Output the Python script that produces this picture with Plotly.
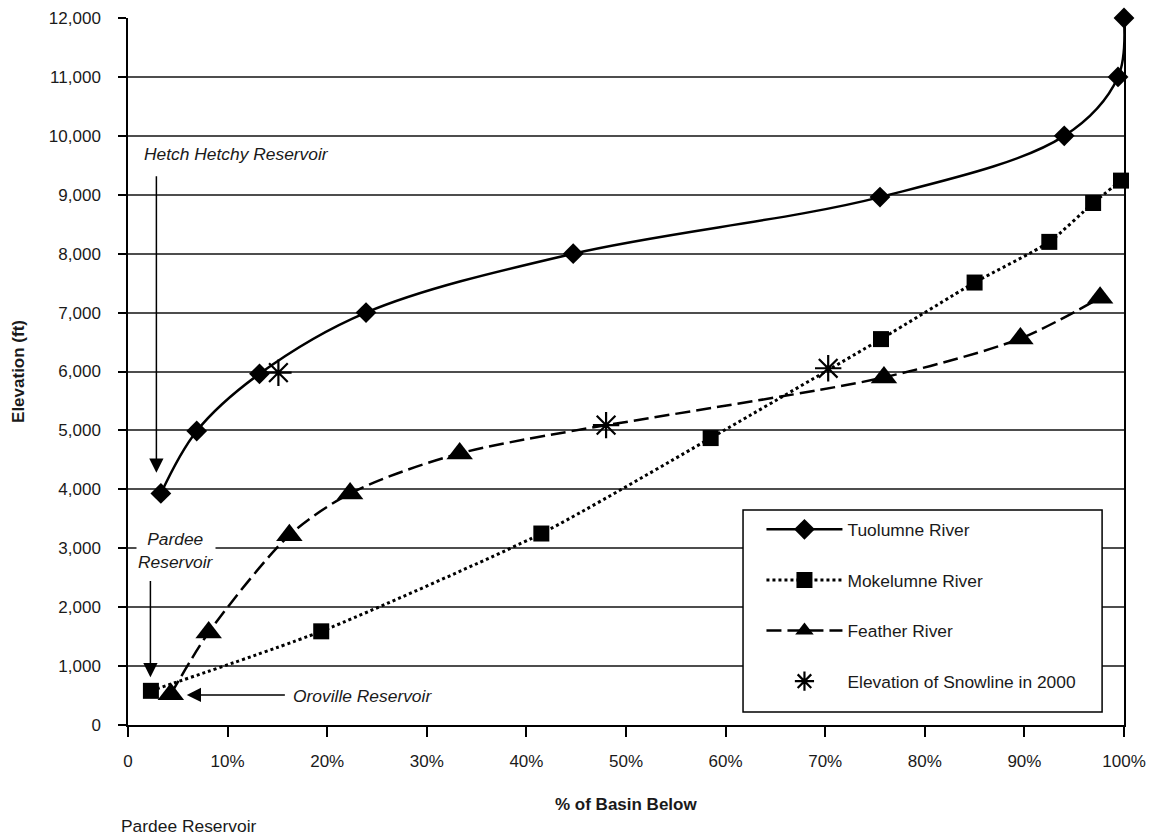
import plotly.graph_objects as go

# ---------------- data ----------------
tuolumne_pct = [3.3, 6.9, 13.2, 23.9, 44.7, 75.5, 94.0, 99.4, 100.0]
tuolumne_elev = [3930, 4990, 5960, 7000, 8000, 8960, 10000, 11000, 12000]

mokelumne_pct = [2.3, 19.4, 41.5, 58.5, 75.6, 85.0, 92.5, 96.9, 99.7]
mokelumne_elev = [580, 1590, 3250, 4870, 6550, 7510, 8200, 8860, 9240]

feather_pct = [4.3, 8.1, 16.2, 22.3, 33.3, 75.9, 89.6, 97.6]
feather_elev = [520, 1570, 3220, 3930, 4610, 5900, 6560, 7250]

snow_pct = [15.1, 48.0, 70.3]
snow_elev = [5980, 5090, 6055]

x_ticks = [0, 10, 20, 30, 40, 50, 60, 70, 80, 90, 100]
x_ticktext = ["0", "10%", "20%", "30%", "40%", "50%", "60%", "70%", "80%", "90%", "100%"]
y_ticks = list(range(0, 12001, 1000))

FONT = "Liberation Sans, Arial, sans-serif"
TXT = "#1a1a1a"
FS = 17.4      # label text size
TFS = 17       # tick text size

fig = go.Figure()

fig.add_trace(go.Scatter(
    x=tuolumne_pct, y=tuolumne_elev, name="Tuolumne River",
    mode="lines+markers", line=dict(color="black", width=2.5, shape="spline", smoothing=1.0),
    marker=dict(symbol="diamond", size=16, color="black"),
    legendgroup="a", cliponaxis=False))

fig.add_trace(go.Scatter(
    x=mokelumne_pct, y=mokelumne_elev, name="Mokelumne River",
    mode="lines+markers", line=dict(color="black", width=3, dash="3px,3px", shape="spline", smoothing=0.6),
    marker=dict(symbol="square", size=16, color="black"),
    legendgroup="b", cliponaxis=False))

fig.add_trace(go.Scatter(
    x=feather_pct, y=feather_elev, name="Feather River",
    mode="lines+markers", line=dict(color="black", width=2.5, dash="15px,6px", shape="spline", smoothing=0.8),
    marker=dict(symbol="triangle-up", size=23, color="black"),
    legendgroup="c", cliponaxis=False))

fig.add_trace(go.Scatter(
    x=snow_pct, y=snow_elev, name="Elevation of Snowline in 2000",
    mode="markers",
    marker=dict(symbol="asterisk-open", size=22, color="black", line=dict(color="black", width=2.2)),
    legendgroup="d", cliponaxis=False))

annotations = [
    # axis titles
    dict(text="<b>Elevation (ft)</b>", xref="paper", yref="paper", x=-0.11, y=0.5,
         textangle=-90, showarrow=False, xanchor="center", yanchor="middle",
         font=dict(size=17, color=TXT, family=FONT)),
    dict(text="<b>% of Basin Below</b>", xref="paper", yref="paper", x=0.5, y=-0.112,
         showarrow=False, xanchor="center", yanchor="middle",
         font=dict(size=17, color=TXT, family=FONT)),
    dict(text="Pardee Reservoir", xref="paper", yref="paper", x=-0.009, y=-0.143,
         showarrow=False, xanchor="left", yanchor="middle",
         font=dict(size=FS, color=TXT, family=FONT)),
    # in-plot labels
    dict(text="<i>Hetch Hetchy Reservoir</i>", xref="x", yref="y", x=1.4, y=9690,
         showarrow=False, xanchor="left", yanchor="middle",
         font=dict(size=FS, color=TXT, family=FONT)),
    dict(text="<i>Pardee<br>Reservoir</i>", xref="x", yref="y", x=4.8, y=2966,
         showarrow=False, xanchor="center", yanchor="middle", bgcolor="white",
         font=dict(size=FS, color=TXT, family=FONT)),
    dict(text="<i>Oroville Reservoir</i>", xref="x", yref="y", x=16.4, y=500,
         showarrow=False, xanchor="left", yanchor="middle",
         font=dict(size=FS, color=TXT, family=FONT)),
    # arrows
    dict(text="", xref="x", yref="y", axref="x", ayref="y", x=2.85, y=4280, ax=2.85, ay=9340,
         showarrow=True, arrowhead=2, arrowsize=1.9, arrowwidth=1.5, arrowcolor="black"),
    dict(text="", xref="x", yref="y", axref="x", ayref="y", x=2.25, y=810, ax=2.25, ay=2470,
         showarrow=True, arrowhead=2, arrowsize=1.9, arrowwidth=1.5, arrowcolor="black"),
    dict(text="", xref="x", yref="y", axref="x", ayref="y", x=5.9, y=510, ax=15.9, ay=510,
         showarrow=True, arrowhead=2, arrowsize=1.9, arrowwidth=1.5, arrowcolor="black"),
]

# legend frame (white box that hides the gridlines behind the legend)
shapes = [
    dict(type="rect", xref="paper", yref="paper", x0=0.6175, x1=0.978, y0=0.0184, y1=0.304,
         line=dict(color="black", width=1.5), fillcolor="white", layer="above"),
]

fig.update_layout(
    width=1149, height=836,
    margin=dict(l=128, r=25, t=18, b=111, autoexpand=False),
    paper_bgcolor="white", plot_bgcolor="white",
    font=dict(family=FONT, size=FS, color=TXT),
    showlegend=True,
    legend=dict(x=0.636, y=0.302, xanchor="left", yanchor="top",
                bgcolor="rgba(0,0,0,0)", borderwidth=0, itemwidth=76,
                font=dict(size=FS, color=TXT, family=FONT),
                tracegroupgap=25),
    annotations=annotations,
    shapes=shapes,
    xaxis=dict(range=[0, 100], tickmode="array", tickvals=x_ticks, ticktext=x_ticktext,
               showgrid=False, zeroline=False, showline=True, linecolor="black", linewidth=1.5,
               ticks="outside", ticklen=10, tickwidth=1.5, tickcolor="black", automargin=False,
               ticklabelstandoff=10, tickfont=dict(size=TFS, color=TXT, family=FONT)),
    yaxis=dict(range=[0, 12000], tickmode="array", tickvals=y_ticks, tickformat=",",
               showgrid=True, gridcolor="#4d4d4d", gridwidth=1.5, zeroline=False,
               showline=True, linecolor="black", linewidth=1.5, mirror=True, automargin=False,
               ticks="outside", ticklen=8, tickwidth=1.5, tickcolor="black",
               ticklabelstandoff=14, tickfont=dict(size=TFS, color=TXT, family=FONT)),
)

fig.write_html("out.html", config={"displayModeBar": False},
               post_script="document.body.style.margin='0px';document.body.style.overflow='hidden';")
